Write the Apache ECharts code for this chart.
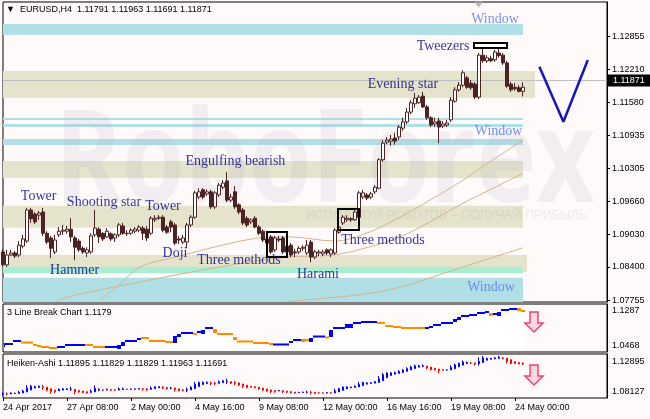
<!DOCTYPE html>
<html><head><meta charset="utf-8">
<script src="https://cdn.jsdelivr.net/npm/echarts@6/dist/echarts.min.js"></script>
<style>html,body{margin:0;padding:0;background:#FFFAFA;}#c{width:650px;height:419px;}</style>
</head><body><div id="c"></div>
<script>
// ---- time axis ----
const tickLabels = ["24 Apr 2017","27 Apr 08:00","2 May 00:00","4 May 16:00","9 May 08:00","12 May 00:00","16 May 16:00","19 May 08:00","24 May 00:00"];
const barsPerTick = 16;
const slotCount = 152; // 131 bars + chart shift

// ---- EURUSD H4 candles ----
const opens = [1.0869,1.0844,1.0863,1.0867,1.0863,1.0880,1.0890,1.0950,1.0942,1.0940,
1.0946,1.0905,1.0896,1.0869,1.0902,1.0909,1.0909,1.0913,1.0896,1.0890,
1.0876,1.0867,1.0869,1.0902,1.0913,1.0905,1.0898,1.0904,1.0896,1.0902,
1.0919,1.0904,1.0905,1.0909,1.0911,1.0915,1.0913,1.0905,1.0931,1.0934,
1.0936,1.0917,1.0927,1.0921,1.0894,1.0888,1.0888,1.0921,1.0936,1.0975,
1.0989,1.0981,1.0985,1.0956,1.0979,1.0994,1.1006,1.0969,1.0985,1.0960,
1.0950,1.0934,1.0927,1.0934,1.0917,1.0909,1.0894,1.0898,1.0873,1.0894,
1.0896,1.0869,1.0882,1.0869,1.0869,1.0876,1.0867,1.0888,1.0859,1.0867,
1.0865,1.0873,1.0865,1.0867,1.0907,1.0925,1.0931,1.0933,1.0931,1.0936,
1.0975,1.0979,1.0975,1.0985,1.0992,1.1047,1.1081,1.1083,1.1089,1.1091,
1.1108,1.1120,1.1139,1.1155,1.1157,1.1170,1.1149,1.1128,1.1116,1.1122,
1.1112,1.1114,1.1124,1.1160,1.1182,1.1191,1.1205,1.1195,1.1193,1.1168,
1.1249,1.1238,1.1242,1.1240,1.1253,1.1249,1.1234,1.1193,1.1187,1.1186,
1.11791];
const highs = [1.0875,1.0873,1.0873,1.0871,1.0890,1.0902,1.0954,1.0954,1.0946,1.0948,
1.0954,1.0909,1.0900,1.0902,1.0917,1.0921,1.0919,1.0934,1.0900,1.0894,
1.0880,1.0878,1.0905,1.0950,1.0917,1.0907,1.0915,1.0907,1.0905,1.0925,
1.0925,1.0911,1.0915,1.0917,1.0921,1.0919,1.0919,1.0938,1.0940,1.0940,
1.0940,1.0921,1.0931,1.0925,1.0900,1.0902,1.0925,1.0940,1.0987,1.0992,
1.0992,1.0990,1.0989,1.0987,1.1002,1.1008,1.1023,1.0981,1.0996,1.0963,
1.0954,1.0938,1.0934,1.0938,1.0921,1.0913,1.0900,1.0902,1.0900,1.0900,
1.0900,1.0886,1.0886,1.0875,1.0880,1.0882,1.0892,1.0892,1.0873,1.0873,
1.0873,1.0876,1.0876,1.0915,1.0923,1.0940,1.0940,1.0936,1.0950,1.0987,
1.0989,1.0983,1.0985,1.0998,1.1050,1.1085,1.1091,1.1095,1.1099,1.1114,
1.1128,1.1147,1.1162,1.1176,1.1172,1.1178,1.1153,1.1131,1.1128,1.1128,
1.1122,1.1124,1.1168,1.1187,1.1197,1.1220,1.1209,1.1201,1.1197,1.1253,
1.1269,1.1249,1.1248,1.1259,1.1269,1.1253,1.1238,1.1197,1.1195,1.1191,
1.11963];
const lows = [1.0840,1.0840,1.0861,1.0857,1.0859,1.0876,1.0886,1.0925,1.0923,1.0931,
1.0900,1.0884,1.0857,1.0865,1.0898,1.0902,1.0904,1.0888,1.0853,1.0869,
1.0865,1.0859,1.0865,1.0898,1.0886,1.0890,1.0896,1.0890,1.0888,1.0898,
1.0902,1.0900,1.0902,1.0905,1.0907,1.0892,1.0890,1.0902,1.0927,1.0931,
1.0907,1.0904,1.0907,1.0882,1.0884,1.0884,1.0876,1.0917,1.0933,1.0971,
1.0971,1.0977,1.0952,1.0952,1.0975,1.0990,1.0965,1.0965,1.0952,1.0942,
1.0921,1.0917,1.0923,1.0915,1.0902,1.0888,1.0880,1.0865,1.0869,1.0888,
1.0865,1.0865,1.0859,1.0859,1.0865,1.0871,1.0863,1.0849,1.0855,1.0861,
1.0861,1.0863,1.0859,1.0863,1.0904,1.0921,1.0927,1.0927,1.0929,1.0934,
1.0971,1.0969,1.0971,1.0981,1.0990,1.1043,1.1077,1.1074,1.1076,1.1085,
1.1103,1.1116,1.1135,1.1147,1.1155,1.1147,1.1124,1.1110,1.1110,1.1079,
1.1108,1.1110,1.1120,1.1157,1.1178,1.1187,1.1184,1.1182,1.1164,1.1164,
1.1234,1.1234,1.1236,1.1236,1.1244,1.1230,1.1186,1.1178,1.1180,1.1177,
1.11691];
const closes = [1.0844,1.0863,1.0867,1.0861,1.0882,1.0894,1.0950,1.0933,1.0927,1.0944,
1.0905,1.0888,1.0876,1.0892,1.0909,1.0911,1.0913,1.0898,1.0878,1.0873,
1.0869,1.0873,1.0900,1.0915,1.0898,1.0894,1.0909,1.0894,1.0902,1.0921,
1.0905,1.0905,1.0911,1.0913,1.0917,1.0905,1.0896,1.0934,1.0934,1.0936,
1.0911,1.0907,1.0917,1.0886,1.0892,1.0896,1.0921,1.0936,1.0983,1.0985,
1.0975,1.0985,1.0956,1.0983,1.0998,1.1002,1.0969,1.0975,1.0956,1.0946,
1.0925,1.0921,1.0931,1.0917,1.0905,1.0892,1.0886,1.0869,1.0896,1.0892,
1.0869,1.0880,1.0863,1.0867,1.0876,1.0878,1.0882,1.0859,1.0869,1.0869,
1.0869,1.0867,1.0873,1.0911,1.0917,1.0936,1.0934,1.0931,1.0946,1.0983,
1.0983,1.0973,1.0981,1.0994,1.1047,1.1079,1.1085,1.1087,1.1083,1.1110,
1.1120,1.1139,1.1157,1.1166,1.1168,1.1149,1.1128,1.1114,1.1120,1.1110,
1.1116,1.1118,1.1162,1.1182,1.1191,1.1215,1.1187,1.1186,1.1168,1.1249,
1.1238,1.1244,1.1238,1.1255,1.1248,1.1234,1.1189,1.1182,1.1184,1.1179,
1.11871];

// ---- price axis ----
const priceTicks = [1.12855,1.12210,1.11580,1.10935,1.10305,1.09660,1.09030,1.08400,1.07755];
const priceMin = 1.07723, priceMax = 1.13516;

// ---- moving averages [bar, price] read at points ----
const maFast = [[24.25,1.0776],[29.25,1.0807],[34.25,1.0840],[44.25,1.0861],[54.25,1.0881],[64.25,1.0896],[71.75,1.0898],[83,1.0890],[90.5,1.0904],[98,1.0931],[106.75,1.0969],[114.25,1.1004],[121.75,1.1043],[130,1.1085]];
const maMid = [[13.5,1.0772],[16,1.0782],[34.25,1.0811],[54.25,1.0840],[71,1.0859],[82.5,1.0863],[91.75,1.0879],[99.25,1.0898],[106.75,1.0927],[114.25,1.0960],[121.75,1.0989],[130,1.1021]];
const maSlow = [[70,1.0772],[80.5,1.0780],[88.75,1.0786],[99.25,1.0801],[114.25,1.0838],[130,1.0877]];

// ---- zones [fromBar, toBar, top, bottom, kind] ----
const zoneBands = [
 [0,130,1.13091,1.12879,'blue'],
 [0,133,1.12184,1.11663,'beige'],
 [0,130,1.11276,1.11238,'blue'],
 [0,130,1.11161,1.11103,'blue'],
 [0,130,1.10871,1.10755,'blue'],
 [0,130,1.10446,1.10118,'beige'],
 [0,130,1.09583,1.09158,'beige'],
 [0,131,1.08631,1.08303,'beige'],
 [0,130,1.08405,1.08277,'green'],
 [0,130,1.08193,1.07723,'blue']
];
// pattern boxes [fromBar, top, toBar, bottom, filled]
const patternBoxes = [[117.75,1.12725,126,1.12628,1],[66,1.09075,71,1.08592,0],[83.75,1.09519,89,1.09114,0]];
// annotations [text, bar, price, kind]
const annotations = [
 ["Window",123,1.13188,"win"],["Tweezers",110,1.12667,"pat"],["Evening star",100,1.11933,"pat"],
 ["Window",123.9,1.11025,"win"],["Engulfing bearish",58.1,1.10446,"pat"],["Tower",8.9,1.09770,"pat"],
 ["Shooting star",25.25,1.09654,"pat"],["Tower",40,1.09577,"pat"],["Doji",43,1.08670,"pat"],
 ["Three methods",59,1.08535,"pat"],["Hammer",17.9,1.08341,"pat"],["Harami",78.75,1.08264,"pat"],
 ["Three methods",95,1.08921,"pat"],["Window",122,1.08013,"win"]
];
const forecastV = [[134.1,1.12267],[140.1,1.11205],[146.2,1.12396]];
const shiftMarker = [118.9,1.13468];

// ---- 3 Line Break [fromBar, toBar, high, low, up] ----
const lbMin = 1.0468, lbMax = 1.1287;
const lineBreak = [
 [0,0,1.0622,1.0553,1],[1,2,1.0604,1.0604,1],[3,4,1.0656,1.0656,1],[5,7,1.0630,1.0630,0],
 [8,8,1.0587,1.0587,0],[9,9,1.0587,1.0553,0],[10,11,1.0553,1.0553,0],[12,13,1.0536,1.0536,0],
 [14,15,1.0553,1.0553,1],[16,18,1.0587,1.0587,1],[19,20,1.0604,1.0570,1],[21,22,1.0587,1.0587,0],
 [23,25,1.0553,1.0553,0],[26,26,1.0570,1.0536,1],[27,28,1.0553,1.0553,1],[29,29,1.0587,1.0519,1],
 [30,30,1.0639,1.0570,1],[31,33,1.0656,1.0656,1],[34,34,1.0690,1.0690,1],[35,36,1.0707,1.0707,0],
 [37,40,1.0656,1.0656,0],[41,42,1.0639,1.0639,0],[43,43,1.0741,1.0622,1],[44,44,1.0775,1.0724,1],
 [45,47,1.0792,1.0792,1],[48,48,1.0792,1.0758,0],[49,49,1.0809,1.0809,1],[50,50,1.0843,1.0775,1],
 [51,52,1.0877,1.0877,1],[53,53,1.0860,1.0792,0],[54,57,1.0775,1.0775,0],[58,58,1.0724,1.0673,0],
 [59,62,1.0647,1.0647,0],[63,66,1.0622,1.0622,0],[67,67,1.0604,1.0604,0],[68,71,1.0596,1.0596,1],
 [72,72,1.0656,1.0622,1],[73,74,1.0673,1.0673,1],[75,75,1.0690,1.0639,0],[76,76,1.0673,1.0673,0],
 [77,77,1.0707,1.0639,1],[78,80,1.0732,1.0732,1],[81,81,1.0724,1.0707,0],[82,82,1.0843,1.0724,1],
 [83,85,1.0877,1.0877,1],[86,87,1.0946,1.0877,1],[88,89,1.0963,1.0963,1],[90,93,1.0980,1.0980,1],
 [94,95,1.0963,1.0963,0],[96,97,1.0912,1.0912,0],[98,99,1.0895,1.0895,0],[100,105,1.0877,1.0877,0],
 [106,106,1.0877,1.0877,1],[107,107,1.0895,1.0895,1],[108,109,1.0929,1.0929,1],[110,112,1.0963,1.0963,1],
 [113,113,1.1031,1.0980,1],[114,114,1.1065,1.1014,1],[115,116,1.1082,1.1082,1],[117,118,1.1099,1.1099,1],
 [119,120,1.1133,1.1133,1],[121,121,1.1150,1.1150,1],[122,122,1.1133,1.1082,0],[123,123,1.1116,1.1116,1],
 [124,124,1.1150,1.1082,1],[125,126,1.1185,1.1185,1],[127,128,1.1202,1.1202,1],[129,129,1.1219,1.1168,0],
 [130,130,1.1168,1.1168,0]
];
const lbArrow = [132.75,1.0980];

// ---- Heiken-Ashi pane ----
const haMin = 1.08127, haMax = 1.12895;
const haArrow = [132.75,1.1062];

// ===== build =====
const n = opens.length;
const last = n - 1;
const cats = Array.from({length: slotCount}, (_, i) => String(i));
const candles = opens.map((o, i) => [o, closes[i], lows[i], highs[i]]);
const ha = [];
let pO = null, pC = null;
for (let i = 0; i < n; i++) {
  const c = (opens[i] + highs[i] + lows[i] + closes[i]) / 4;
  const o = i === 0 ? (opens[0] + closes[0]) / 2 : (pO + pC) / 2;
  ha.push([o, c, Math.min(lows[i], o, c), Math.max(highs[i], o, c)]);
  pO = o; pC = c;
}
const font = 'Liberation Sans, Arial, sans-serif';
const bandColors = {blue: '#B0E0E6', beige: '#E5E3CB', green: '#A9EDD3'};
const isTick = (i) => i % barsPerTick === 0 && i / barsPerTick < tickLabels.length;
const gridBase = {left: 3, right: 43, show: true, borderColor: '#000', borderWidth: 1, backgroundColor: 'transparent'};
const hiddenCat = (gi) => ({type: 'category', gridIndex: gi, data: cats, boundaryGap: false, axisLine: {show: false, onZero: false}, axisTick: {show: false}, axisLabel: {show: false}, splitLine: {show: false}});
const hiddenVal = (gi) => ({type: 'value', gridIndex: gi, min: 0, max: slotCount - 1, show: false, axisLine: {onZero: false}});
const labelStyle = {fontSize: 9, color: '#000', fontFamily: font};
const edgeAxis = (gi, min, max, dec, padTop, padBot) => ({
  type: 'value', gridIndex: gi, position: 'right', min: min, max: max,
  splitLine: {show: false}, axisLine: {show: true, onZero: false, lineStyle: {color: '#000'}}, axisTick: {show: false},
  axisLabel: {customValues: [max, min], margin: 5,
    formatter: (v) => (Math.abs(v - max) < 1e-7 ? '{t|' : '{b|') + v.toFixed(dec) + '}',
    rich: {t: Object.assign({padding: [padTop, 0, 0, 0]}, labelStyle), b: Object.assign({padding: [0, 0, padBot, 0]}, labelStyle)}}
});
const arrowPath = 'path://M5,0 L13,0 L13,11 L18,11 L9,20 L0,11 L5,11 Z';

const chart = echarts.init(document.getElementById('c'), null, {renderer: 'canvas', width: 650, height: 419});
chart.setOption({
  animation: false,
  backgroundColor: '#FFFAFA',
  title: [
    {text: '\u25BC  EURUSD,H4  ' + [opens[last], highs[last], lows[last], closes[last]].map(v => v.toFixed(5)).join(' '), left: 6, top: 5, padding: 0, textStyle: Object.assign({fontWeight: 'normal'}, labelStyle)},
    {text: '3 Line Break Chart 1.1179', left: 7, top: 308, padding: 0, textStyle: Object.assign({fontWeight: 'normal'}, labelStyle)},
    {text: 'Heiken-Ashi 1.11895 1.11829 1.11829 1.11963 1.11691', left: 7, top: 359, padding: 0, textStyle: Object.assign({fontWeight: 'normal'}, labelStyle)}
  ],
  graphic: [
    {type: 'text', x: 55, y: 100, scaleX: 0.78, z: 1, silent: true, style: {text: 'RoboForex', font: 'bold 130px "Open Sans"', fill: 'rgba(185,185,200,0.2)', verticalAlign: 'top'}},
    {type: 'text', x: 306, y: 209, z: 1, silent: true, style: {text: 'ИСПОЛЬЗУЙ РОБОТОВ – ПОЛУЧАЙ ПРИБЫЛЬ', font: '12.5px "Liberation Sans"', fill: 'rgba(150,150,165,0.18)', verticalAlign: 'top'}}
  ],
  grid: [
    Object.assign({top: 2, height: 300}, gridBase),
    Object.assign({top: 304, height: 48}, gridBase),
    Object.assign({top: 354, height: 44}, gridBase)
  ],
  xAxis: [
    hiddenCat(0), hiddenVal(0), hiddenVal(1),
    {type: 'category', gridIndex: 2, data: cats, boundaryGap: false, axisLine: {show: false, onZero: false},
     axisTick: {show: true, interval: isTick, length: 3, lineStyle: {color: '#000'}},
     axisLabel: Object.assign({show: true, interval: isTick, formatter: (v, i) => tickLabels[i / barsPerTick] || '', align: 'left', margin: 5}, labelStyle),
     splitLine: {show: false}},
    hiddenVal(2)
  ],
  yAxis: [
    {type: 'value', gridIndex: 0, position: 'right', min: priceMin, max: priceMax, splitLine: {show: false},
     axisLine: {show: true, onZero: false, lineStyle: {color: '#000'}},
     axisTick: {show: true, inside: false, customValues: priceTicks, length: 3, lineStyle: {color: '#000'}},
     axisLabel: Object.assign({customValues: priceTicks, formatter: v => v.toFixed(5), margin: 5}, labelStyle)},
    edgeAxis(1, lbMin, lbMax, 4, 13, 12),
    edgeAxis(2, haMin, haMax, 5, 15, 13)
  ],
  series: [
    {type: 'line', xAxisIndex: 1, yAxisIndex: 0, data: [], silent: true,
     markArea: {silent: true, z: 0, data: zoneBands.map(b => [{xAxis: b[0], yAxis: b[2], itemStyle: {color: bandColors[b[4]]}}, {xAxis: b[1], yAxis: b[3]}])}},
    ...[maFast, maMid, maSlow].map(d => ({type: 'line', xAxisIndex: 1, yAxisIndex: 0, data: d, smooth: 0.35, symbol: 'none', silent: true, z: 2, lineStyle: {color: '#D2B48C', width: 1}})),
    {type: 'line', xAxisIndex: 1, yAxisIndex: 0, data: [], silent: true,
     markLine: {silent: true, z: 2, symbol: ['none', 'none'], data: [{yAxis: closes[last]}], lineStyle: {color: '#C0C0C0', width: 1, type: 'solid'},
       label: Object.assign({position: 'end', formatter: closes[last].toFixed(5), backgroundColor: '#000', padding: [2, 6, 1, 5], distance: 1}, labelStyle, {color: '#fff'})}},
    {type: 'candlestick', xAxisIndex: 0, yAxisIndex: 0, data: candles, barWidth: 2.6, z: 3, silent: true,
     itemStyle: {color: '#FFFFFF', color0: '#4B2323', borderColor: '#4B2323', borderColor0: '#4B2323', borderWidth: 1}},
    {type: 'line', xAxisIndex: 1, yAxisIndex: 0, data: forecastV, symbol: 'none', silent: true, z: 4, lineStyle: {color: '#1414C8', width: 2.5}},
    {type: 'line', xAxisIndex: 1, yAxisIndex: 0, data: [], silent: true,
     markArea: {silent: true, z: 6, data: patternBoxes.map(b => [{xAxis: b[0], yAxis: b[1], itemStyle: {color: b[4] ? '#FFFFFF' : 'rgba(0,0,0,0)', borderColor: '#000', borderWidth: 2}}, {xAxis: b[2], yAxis: b[3]}])}},
    {type: 'scatter', xAxisIndex: 1, yAxisIndex: 0, silent: true, z: 7, symbolSize: 1, itemStyle: {color: 'rgba(0,0,0,0)'},
     data: annotations.map(a => ({name: a[0], value: [a[1], a[2]], label: {color: a[3] === 'win' ? '#5577EE' : '#000080'}})),
     label: {show: true, position: 'inside', formatter: '{b}', fontFamily: 'Liberation Serif, Times New Roman, serif', fontSize: 14}},
    {type: 'scatter', xAxisIndex: 1, yAxisIndex: 0, silent: true, z: 7, data: [shiftMarker], symbol: 'triangle', symbolRotate: 180, symbolSize: [9, 6], itemStyle: {color: '#A9A9A9'}},
    {type: 'custom', xAxisIndex: 2, yAxisIndex: 1, silent: true, clip: true, data: lineBreak,
     encode: {x: [0, 1], y: [2, 3]},
     renderItem: function (params, api) {
       const s = api.value(0), e = api.value(1), hi = api.value(2), lo = api.value(3), up = api.value(4);
       const a = api.coord([s - 0.5, hi]);
       const b = api.coord([e + 0.5, lo]);
       const cs = params.coordSys;
       let top = a[1], bot = b[1];
       if (bot - top < 2) { const m = (top + bot) / 2; top = m - 1; bot = m + 1; }
       const x0 = Math.max(cs.x + 1, Math.round(a[0])), x1 = Math.round(b[0]);
       return {type: 'group', children: [
         {type: 'rect', shape: {x: x0, y: bot, width: x1 - x0, height: cs.y + cs.height - 1 - bot}, style: {fill: '#FFFFFF'}},
         {type: 'rect', shape: {x: x0, y: top, width: x1 - x0, height: bot - top}, style: {fill: up ? '#0000FF' : '#FF8C00'}}
       ]};
     }},
    {type: 'scatter', xAxisIndex: 2, yAxisIndex: 1, silent: true, z: 7, data: [lbArrow], symbol: arrowPath, symbolSize: [18, 20], itemStyle: {color: '#FAD0DC', borderColor: '#E2184C', borderWidth: 1.5}},
    {type: 'candlestick', xAxisIndex: 3, yAxisIndex: 2, data: ha, barWidth: 2, silent: true,
     itemStyle: {color: '#0000FF', color0: '#FF0000', borderColor: '#0000FF', borderColor0: '#FF0000', borderWidth: 1}},
    {type: 'scatter', xAxisIndex: 4, yAxisIndex: 2, silent: true, z: 7, data: [haArrow], symbol: arrowPath, symbolSize: [18, 20], itemStyle: {color: '#FAD0DC', borderColor: '#E2184C', borderWidth: 1.5}}
  ]
});
</script>
</body></html>
